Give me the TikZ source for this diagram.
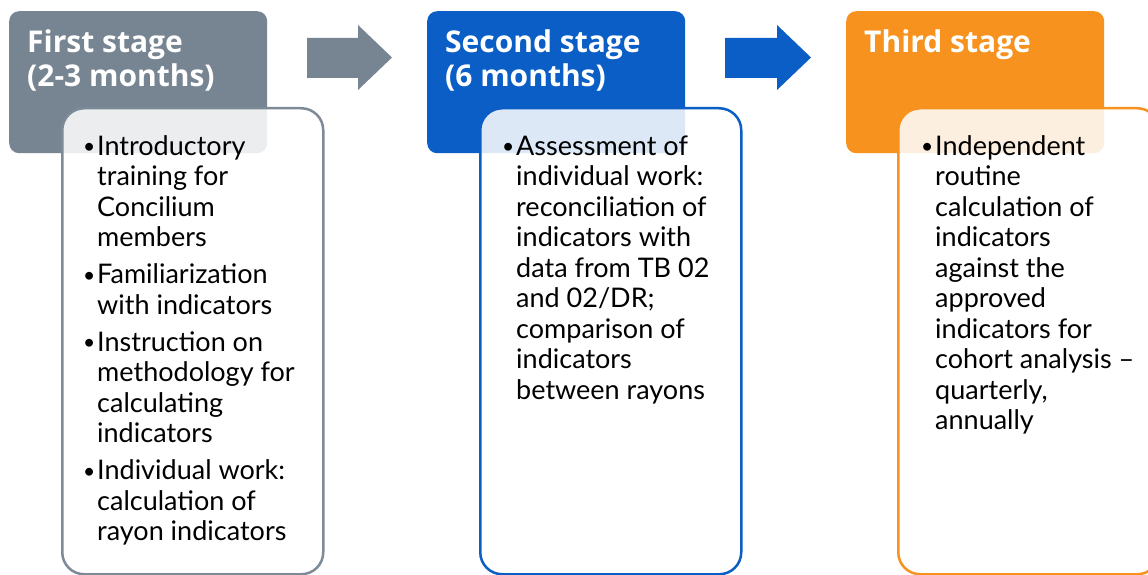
\documentclass[tikz,border=0pt]{standalone}
\usepackage{fontspec}
\setmainfont{Lato}
\newfontfamily\titlefont{Open Sans}
\definecolor{stgray}{HTML}{778593}
\definecolor{stgrayline}{HTML}{7D8A97}
\definecolor{stblue}{HTML}{0A5EC5}
\definecolor{storange}{HTML}{F7921E}
\newcommand{\bul}{\llap{\raisebox{1.5pt}{\fontsize{21}{21}\selectfont •}\hspace{2pt}}}
\begin{document}
\begin{tikzpicture}[x=1pt,y=-1pt,
  header/.style={fill=#1, rounded corners=10pt, inner sep=0pt, minimum width=258pt, minimum height=142pt, anchor=north west},
  panel/.style={draw=#1, line width=2.5pt, fill=white, fill opacity=0.86, draw opacity=1, rounded corners=22pt, inner sep=0pt, minimum width=261pt, minimum height=466pt, anchor=north west},
  title/.style={text=white, font=\titlefont\bfseries\fontsize{30}{34}\selectfont, align=left, inner sep=0pt, anchor=base west},
  body/.style={text=black, font=\fontsize{27}{30.5}\selectfont, align=left, inner sep=0pt, anchor=base west},
  arrowshape/.style={fill=#1}
]
\useasboundingbox (0,0) rectangle (1148,575);
\clip (0,0) rectangle (1148,575);
\fill[white] (0,0) rectangle (1148,575);

% headers
\node[header=stgray] (h1) at (9,11) {};
\node[header=stblue] (h2) at (427,11) {};
\node[header=storange] (h3) at (846,11) {};

% titles (anchor base = baseline of last line)
\node[title] (t1) at (27,87) {First stage\\(2-3 months)};
\node[title] (t2) at (445,87) {Second stage\\(6 months)};
\node[title] (t3) at (864,53) {Third stage};

% arrows
\fill[arrowshape=stgray] (307,38) -- (358,38) -- (358,25) -- (392,57.5) -- (358,90) -- (358,78) -- (307,78) -- cycle;
\fill[arrowshape=stblue] (725,38) -- (777,38) -- (777,25) -- (811,57.5) -- (777,90) -- (777,78) -- (725,78) -- cycle;

% panels
\node[panel=stgrayline] (p1) at (61,107) {};
\node[panel=stblue] (p2) at (479,107) {};
\node[panel=storange] (p3) at (897,107) {};

% body texts (anchor base = baseline of last line)
\node[body] (x1) at (97,540.5) {\bul Introductory\\training for\\Concilium\\members\\[6.5pt]
\bul Familiarization\\with indicators\\[6.5pt]
\bul Instruction on\\methodology for\\calculating\\indicators\\[6.5pt]
\bul Individual work:\\calculation of\\rayon indicators};
\node[body] (x2) at (516,399) {\bul Assessment of\\individual work:\\reconciliation of\\indicators with\\data from TB 02\\and 02/DR;\\comparison of\\indicators\\between rayons};
\node[body] (x3) at (935,429.5) {\bul Independent\\routine\\calculation of\\indicators\\against the\\approved\\indicators for\\cohort analysis –\\quarterly,\\annually};
\end{tikzpicture}
\end{document}
